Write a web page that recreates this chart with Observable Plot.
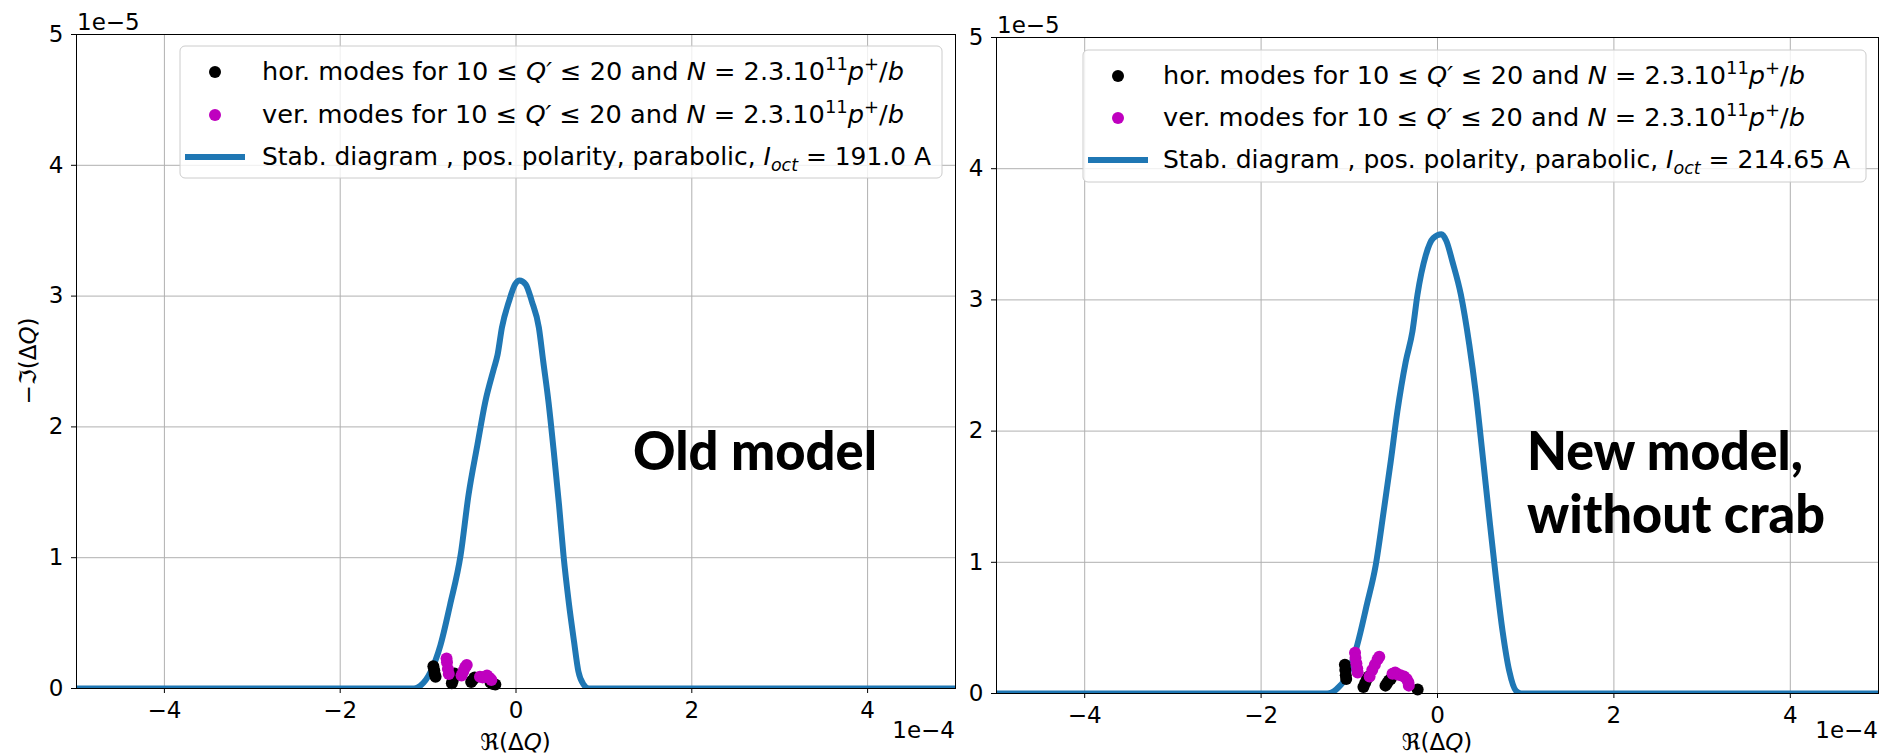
<!DOCTYPE html>
<html>
<head>
<meta charset="utf-8">
<script src="https://cdn.jsdelivr.net/npm/d3@7"></script>
<script src="https://cdn.jsdelivr.net/npm/@observablehq/plot@0.6"></script>
<style>
  body { margin: 0; background: #fff; }
  #root { position: relative; width: 1884px; height: 756px; overflow: hidden; background: #fff; }
  .panel { position: absolute; top: 0; }
  #overlay { position: absolute; left: 0; top: 0; }
</style>
</head>
<body>
<div id="root"></div>
<script>
// ---- tick values (x in units of 1e-4, y in units of 1e-5) ----
const xTicks = [-4, -2, 0, 2, 4];
const yTicks = [0, 1, 2, 3, 4, 5];

// ---- Old model (left panel) ----
const oldCurveX = [-5, -1.16, -1.09, -0.97, -0.86, -0.75, -0.63, -0.54, -0.44, -0.35, -0.25, -0.21, -0.16, -0.08, -0.01, 0.04, 0.11, 0.18, 0.26, 0.31, 0.37, 0.43, 0.49, 0.54, 0.60, 0.66, 0.71, 0.77, 0.83, 5];
const oldCurveY = [0, 0, 0.02, 0.13, 0.33, 0.64, 1.02, 1.48, 1.86, 2.19, 2.45, 2.55, 2.76, 2.96, 3.09, 3.12, 3.09, 2.96, 2.76, 2.50, 2.19, 1.81, 1.40, 1.02, 0.66, 0.36, 0.13, 0.03, 0, 0];
const oldHorX = [-0.94, -0.93, -0.925, -0.915, -0.73, -0.72, -0.71, -0.70, -0.51, -0.50, -0.48, -0.47, -0.29, -0.26, -0.235];
const oldHorY = [0.17, 0.14, 0.11, 0.09, 0.04, 0.06, 0.09, 0.115, 0.05, 0.06, 0.075, 0.085, 0.045, 0.035, 0.03];
const oldVerX = [-0.79, -0.785, -0.775, -0.765, -0.62, -0.60, -0.58, -0.56, -0.41, -0.38, -0.35, -0.33, -0.30, -0.28];
const oldVerY = [0.23, 0.20, 0.15, 0.11, 0.10, 0.13, 0.16, 0.18, 0.09, 0.085, 0.09, 0.10, 0.08, 0.065];

// ---- New model, without crab (right panel) ----
const newCurveX = [-5, -1.25, -1.15, -1.04, -0.91, -0.80, -0.70, -0.61, -0.53, -0.455, -0.36, -0.284, -0.227, -0.133, -0.05, 0.045, 0.10, 0.17, 0.265, 0.36, 0.436, 0.511, 0.587, 0.663, 0.739, 0.814, 0.89, 0.95, 5];
const newCurveY = [0, 0, 0.03, 0.12, 0.37, 0.68, 0.98, 1.39, 1.77, 2.15, 2.53, 2.76, 3.04, 3.34, 3.47, 3.50, 3.45, 3.29, 3.04, 2.66, 2.28, 1.82, 1.34, 0.88, 0.47, 0.17, 0.02, 0, 0];
const newHorX = [-1.05, -1.045, -1.04, -1.035, -0.84, -0.82, -0.80, -0.78, -0.59, -0.57, -0.55, -0.53, -0.225];
const newHorY = [0.22, 0.18, 0.14, 0.11, 0.05, 0.08, 0.11, 0.13, 0.06, 0.08, 0.10, 0.11, 0.03];
const newVerX = [-0.935, -0.93, -0.92, -0.91, -0.905, -0.77, -0.74, -0.71, -0.68, -0.66, -0.51, -0.48, -0.45, -0.42, -0.38, -0.35, -0.33, -0.325];
const newVerY = [0.31, 0.27, 0.23, 0.19, 0.16, 0.13, 0.18, 0.22, 0.26, 0.28, 0.15, 0.16, 0.145, 0.14, 0.13, 0.11, 0.085, 0.06];

const oldCurrent = "191.0";
const newCurrent = "214.65";
const oldTitle = ["Old model"];
const newTitle = ["New model,", "without crab"];

const BLUE = "#1f77b4", MAG = "#bf00bf";
const zip = (xs, ys) => xs.map((x, i) => ({x, y: ys[i]}));

function panel(o) {
  return Plot.plot({
    width: o.width, height: o.height,
    marginLeft: o.ml, marginRight: o.mr, marginTop: o.mt, marginBottom: o.mb,
    x: {domain: [-5, 5]},
    y: {domain: [0, 5]},
    style: {fontFamily: "DejaVu Sans", fontSize: "23px", color: "#000", background: "transparent", overflow: "visible"},
    marks: [
      Plot.gridX(xTicks, {stroke: "#b0b0b0", strokeOpacity: 1, strokeWidth: 1}),
      Plot.gridY(yTicks, {stroke: "#b0b0b0", strokeOpacity: 1, strokeWidth: 1}),
      Plot.line(zip(o.cx, o.cy), {x: "x", y: "y", stroke: BLUE, strokeWidth: 6, curve: "monotone-x", clip: "frame"}),
      Plot.dot(zip(o.hx, o.hy), {x: "x", y: "y", r: 6, fill: "#000", stroke: "none"}),
      Plot.dot(zip(o.vx, o.vy), {x: "x", y: "y", r: 6, fill: MAG, stroke: "none"}),
      Plot.frame({stroke: "#000", strokeWidth: 1}),
      Plot.axisX(xTicks, {tickSize: 5, tickPadding: 8, label: null, fontSize: 23, tickFormat: d => String(d).replace("-", "\u2212")}),
      Plot.axisY(yTicks, {tickSize: 5, tickPadding: 8, label: null, fontSize: 23, tickFormat: d => String(d)})
    ]
  });
}

const root = document.getElementById("root");
const left = panel({width: 960, height: 756, ml: 76, mr: 5, mt: 34, mb: 68,
  cx: oldCurveX, cy: oldCurveY, hx: oldHorX, hy: oldHorY, vx: oldVerX, vy: oldVerY});
left.classList.add("panel"); left.style.left = "0px";
const right = panel({width: 924, height: 756, ml: 36, mr: 6, mt: 37, mb: 63,
  cx: newCurveX, cy: newCurveY, hx: newHorX, hy: newHorY, vx: newVerX, vy: newVerY});
right.classList.add("panel"); right.style.left = "960px";
root.appendChild(right);
root.appendChild(left);

// ---- overlay: labels, legends, annotations ----
const svg = d3.select(root).append("svg").attr("id", "overlay")
  .attr("width", 1884).attr("height", 756)
  .style("font-family", "DejaVu Sans").style("pointer-events", "none");

function rich(g, x, y, parts, size, anchor) {
  const t = g.append("text").attr("x", x).attr("y", y).attr("font-size", size)
    .attr("text-anchor", anchor || "start").attr("fill", "#000");
  let shift = 0;
  parts.forEach(p => {
    const s = typeof p === "string" ? {t: p} : p;
    let target = 0, fs = size;
    if (s.sup) { target = -0.42 * size; fs = size * 0.7; }
    if (s.sub) { target = 0.22 * size; fs = size * 0.7; }
    const ts = t.append("tspan").text(s.t).attr("font-size", fs).attr("dy", target - shift);
    if (s.i) ts.attr("font-style", "italic");
    shift = target;
  });
  return t;
}

const labelParts = {
  hor: ["hor. modes for 10 \u2264 ", {t: "Q\u2032", i: true}, " \u2264 20 and ", {t: "N", i: true}, " = 2.3.10", {t: "11", sup: true}, {t: "p", i: true}, {t: "+", sup: true}, "/", {t: "b", i: true}],
  ver: ["ver. modes for 10 \u2264 ", {t: "Q\u2032", i: true}, " \u2264 20 and ", {t: "N", i: true}, " = 2.3.10", {t: "11", sup: true}, {t: "p", i: true}, {t: "+", sup: true}, "/", {t: "b", i: true}],
  stab: cur => ["Stab. diagram , pos. polarity, parabolic, ", {t: "I", i: true}, {t: "oct", i: true, sub: true}, " = " + cur + " A"]
};

function decorate(p) {
  const g = svg.append("g");
  rich(g, p.x0 + 1, p.top - 4, ["1e\u22125"], 23);
  rich(g, p.x1, 738, ["1e\u22124"], 23, "end");
  rich(g, (p.x0 + p.x1) / 2, 750, ["\u211C(\u0394", {t: "Q", i: true}, ")"], 23, "middle");
  g.append("rect").attr("x", p.lx).attr("y", p.ly).attr("width", p.lw).attr("height", p.lh)
    .attr("rx", 5).attr("fill", "#fff").attr("fill-opacity", 0.8).attr("stroke", "#cccccc");
  g.append("circle").attr("cx", p.mx).attr("cy", p.ry[0]).attr("r", 6).attr("fill", "#000");
  g.append("circle").attr("cx", p.mx).attr("cy", p.ry[1]).attr("r", 6).attr("fill", MAG);
  g.append("line").attr("x1", p.mx - 30).attr("x2", p.mx + 30).attr("y1", p.ry[2]).attr("y2", p.ry[2])
    .attr("stroke", BLUE).attr("stroke-width", 6);
  [labelParts.hor, labelParts.ver, labelParts.stab(p.cur)].forEach((parts, i) => {
    const t = rich(g, p.tx, p.ry[i] + 8, parts, 25);
    t.attr("textLength", p.tw[i]).attr("lengthAdjust", "spacingAndGlyphs");
  });
  p.title.forEach((line, i) => {
    g.append("text").attr("x", p.ax).attr("y", p.ay[i]).attr("font-family", "Lato").attr("font-weight", 900)
      .attr("font-size", 53).attr("textLength", p.aw[i]).attr("lengthAdjust", "spacingAndGlyphs").text(line);
  });
}

svg.append("text").attr("transform", "translate(36,361) rotate(-90)").attr("text-anchor", "middle")
  .attr("font-size", 23).call(t => {
    t.append("tspan").text("\u2212\u2111(\u0394");
    t.append("tspan").text("Q").attr("font-style", "italic");
    t.append("tspan").text(")");
  });

decorate({x0: 76, x1: 955, top: 34, lx: 180, ly: 46, lw: 762, lh: 132, mx: 215, tx: 262, ry: [72, 115, 157],
  tw: [642, 642, 669],
  cur: oldCurrent, title: oldTitle, ax: 633, ay: [470], aw: [244]});
decorate({x0: 996, x1: 1878, top: 37, lx: 1083, ly: 50, lw: 783, lh: 132, mx: 1118, tx: 1163, ry: [76, 118, 160],
  tw: [642, 642, 687],
  cur: newCurrent, title: newTitle, ax: 1527, ay: [470, 533], aw: [276, 298]});
</script>
</body>
</html>
